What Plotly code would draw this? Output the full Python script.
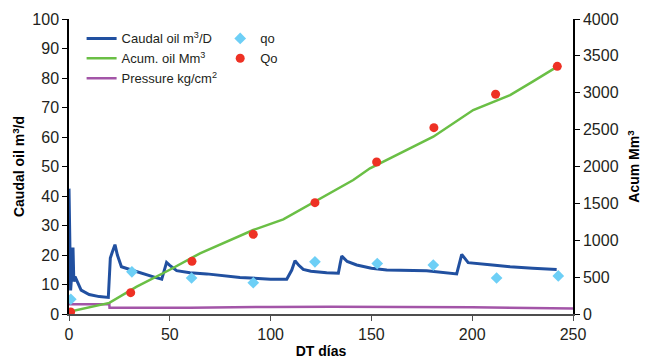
import plotly.graph_objects as go

# Caudal oil m3/D (left axis)
caudal_days = [0, 0.4, 0.8, 1.2, 1.6, 2.0, 2.4, 3, 6, 10, 15, 19.5, 20.5, 21.5, 22.8, 24, 26, 31, 35, 42.7, 46,
               48.4, 50, 53.4, 60, 68.3, 84.8, 100, 108, 110.5, 112.1, 114, 116.2, 120, 127.8, 133.6, 134.5, 135.3,
               138, 142.7, 150, 157.6, 177.4, 192.3, 194.8, 198, 210, 218.8, 230, 241.9]
caudal_vals = [42.5, 25, 8, 12, 22, 22, 11, 12.7, 8.1, 6.6, 5.9, 5.6, 19, 21, 23.5, 20, 16, 14.9, 14, 12.4, 11.8,
               17.5, 16.5, 14.7, 14, 13.6, 12.4, 11.8, 11.8, 14.9, 18.1, 16.5, 15.1, 14.5, 14.0, 13.8, 17, 19.6,
               17.8, 16.6, 15.5, 14.9, 14.7, 13.6, 20.2, 17.4, 16.6, 16.0, 15.5, 15.1]

# Acum. oil Mm3 (right axis)
acum_days = [0, 20, 33.6, 50, 65, 80, 91.4, 106.3, 118, 129.5, 141, 149.3, 162.5, 180.7, 200.5, 218.8, 230, 242]
acum_vals = [30, 150, 370, 600, 823, 1000, 1139, 1284, 1460, 1636, 1817, 1975, 2156, 2404, 2766, 2969, 3150, 3350]

# Pressure kg/cm2 (left axis)
press_days = [0, 20, 20.1, 60, 100, 130, 200, 250]
press_vals = [3.3, 3.3, 2.1, 2.1, 2.4, 2.5, 2.3, 1.9]

# qo points (left axis)
qo_days = [0.9, 31.2, 60.8, 91.4, 122, 152.9, 180.7, 212.1, 242.7]
qo_vals = [5.0, 14.3, 12.2, 10.6, 17.7, 17.1, 16.6, 12.2, 12.9]

# Qo points (right axis)
Qo_days = [0.8, 30.6, 61, 91.4, 122, 152.6, 181, 211.6, 242.2]
Qo_vals = [27, 289, 714, 1080, 1510, 2061, 2527, 2979, 3358]

FONT = "Liberation Sans, Arial, sans-serif"
TXT = "#231f20"

fig = go.Figure()
fig.add_trace(go.Scatter(x=press_days, y=press_vals, mode="lines", name="Pressure kg/cm<sup>2</sup>",
                         line=dict(color="#a355a8", width=2.5), legend="legend", legendrank=3))
fig.add_trace(go.Scatter(x=acum_days, y=acum_vals, mode="lines", name="Acum. oil Mm<sup>3</sup>",
                         line=dict(color="#6abf45", width=2.5), yaxis="y2", legend="legend", legendrank=2))
fig.add_trace(go.Scatter(x=caudal_days, y=caudal_vals, mode="lines", name="Caudal oil m<sup>3</sup>/D",
                         line=dict(color="#2150a0", width=3), legend="legend", legendrank=1))
fig.add_trace(go.Scatter(x=qo_days, y=qo_vals, mode="markers", name="qo",
                         marker=dict(symbol="diamond", color="#6dcff6", size=9), legend="legend2", legendrank=1))
fig.add_trace(go.Scatter(x=Qo_days, y=Qo_vals, mode="markers", name="Qo",
                         marker=dict(symbol="circle", color="#ee3124", size=9), yaxis="y2",
                         legend="legend2", legendrank=2))

fig.update_layout(
    width=653, height=359,
    margin=dict(l=69, r=80, t=19, b=45, autoexpand=False),
    paper_bgcolor="white", plot_bgcolor="white",
    font=dict(family=FONT, color=TXT),
    xaxis=dict(range=[0, 250], tickvals=[0, 50, 100, 150, 200, 250], showgrid=False, zeroline=False,
               showline=True, linecolor="#4d4d4d", linewidth=2, ticks="outside", ticklen=5,
               tickcolor="#4d4d4d", tickfont=dict(size=16, color=TXT), automargin=False,
               title=dict(text="<b>DT días</b>", font=dict(size=14, color="black"), standoff=4)),
    yaxis=dict(range=[0, 100], tickvals=list(range(0, 101, 10)), showgrid=False, zeroline=False,
               showline=True, linecolor="black", linewidth=1.5, ticks="outside", ticklen=5,
               tickcolor="black", tickfont=dict(size=16, color=TXT), automargin=False,
               title=dict(text="<b>Caudal oil m<sup>3</sup>/d</b>", font=dict(size=14, color="black"), standoff=4)),
    yaxis2=dict(range=[0, 4000], tickvals=list(range(0, 4001, 500)), overlaying="y", side="right",
                showgrid=False, zeroline=False, showline=True, linecolor="black", linewidth=1.5,
                ticks="outside", ticklen=5, tickcolor="black", tickfont=dict(size=16, color=TXT),
                automargin=False,
                title=dict(text="<b>Acum Mm<sup>3</sup></b>", font=dict(size=14, color="black"), standoff=12)),
    legend=dict(x=0.025, y=0.985, xanchor="left", yanchor="top", bgcolor="rgba(0,0,0,0)",
                font=dict(size=13, color=TXT), tracegroupgap=0, itemwidth=30),
    legend2=dict(x=0.30, y=0.985, xanchor="left", yanchor="top", bgcolor="rgba(0,0,0,0)",
                 font=dict(size=13, color=TXT), itemwidth=30),
)

fig.write_html("out.html")
